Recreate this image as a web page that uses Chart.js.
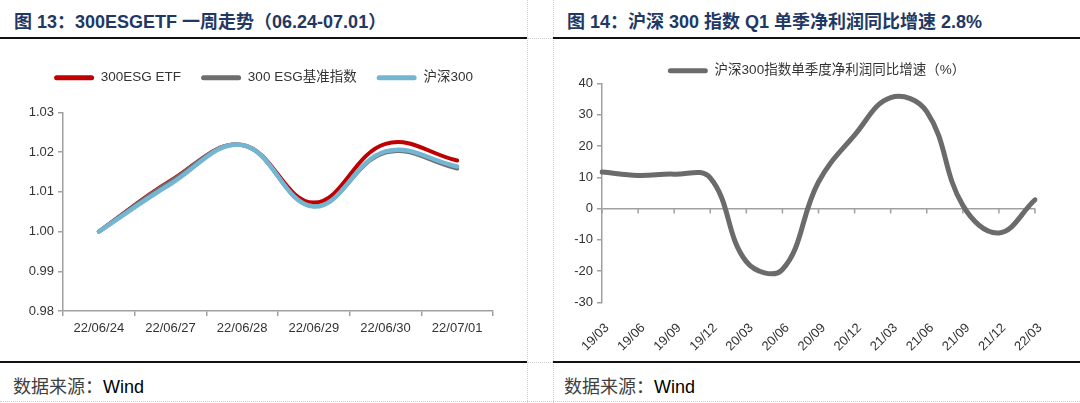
<!DOCTYPE html>
<html>
<head>
<meta charset="utf-8">
<script src="https://cdn.jsdelivr.net/npm/chart.js@4.4.1/dist/chart.umd.min.js"></script>
<style>
  body { margin: 0; width: 1080px; height: 403px; background: #fff; position: relative; overflow: hidden;
         font-family: "Liberation Sans", Arial, "Noto Sans CJK SC", sans-serif; }
  .title { position: absolute; top: 7px; font-size: 18px; font-weight: bold; color: #1f3864; white-space: nowrap; }
  .rule { position: absolute; height: 2px; background: #111; }
  .src { position: absolute; top: 372px; font-size: 18px; color: #404040; white-space: nowrap; }
  .src span { color: #000; }
  .dv { position: absolute; top: 0; height: 403px; border-left: 1px dotted #cfcfcf; }
  .dh { position: absolute; border-top: 1px dotted #cfcfcf; }
  canvas { position: absolute; }
</style>
</head>
<body>
<div class="dv" style="left:527px"></div>
<div class="dv" style="left:553px"></div>
<div class="dh" style="left:527px;width:26px;top:38px"></div>
<div class="dh" style="left:527px;width:26px;top:362px"></div>
<div class="dh" style="left:0;width:1080px;top:401px"></div>

<div class="title" style="left:14px">图 13：300ESGETF 一周走势（06.24-07.01）</div>
<div class="title" style="left:567px">图 14：沪深 300 指数 Q1 单季净利润同比增速 2.8%</div>
<div class="rule" style="left:0;width:527px;top:37px"></div>
<div class="rule" style="left:553px;width:527px;top:37px"></div>
<div class="rule" style="left:0;width:527px;top:361px"></div>
<div class="rule" style="left:553px;width:527px;top:361px"></div>

<canvas id="etfChart" width="527" height="320" style="left:0;top:40px"></canvas>
<canvas id="profitChart" width="527" height="320" style="left:553px;top:40px"></canvas>

<div class="src" style="left:13px">数据来源：<span>Wind</span></div>
<div class="src" style="left:564px">数据来源：<span>Wind</span></div>

<script>
// 图13 数据：一周净值走势
const dates = ['22/06/24', '22/06/27', '22/06/28', '22/06/29', '22/06/30', '22/07/01'];
const etfNav = [1.000, 1.0128, 1.0218, 1.0073, 1.0221, 1.0179];
const benchNav = [1.000, 1.0126, 1.0218, 1.0064, 1.0199, 1.0159];
const hs300Nav = [1.000, 1.0120, 1.0218, 1.0063, 1.0202, 1.0164];

// 图14 数据：沪深300单季度净利润同比增速（%）
const quarters = ['19/03', '19/06', '19/09', '19/12', '20/03', '20/06', '20/09',
                  '20/12', '21/03', '21/06', '21/09', '21/12', '22/03'];
const profitYoy = [11.7, 10.6, 11.0, 9.8, -17.0, -19.5, 8.5, 23.5, 35.5, 31.0, 1.0, -7.8, 2.8];

Chart.defaults.font.family = '"Liberation Sans", Arial, "Noto Sans CJK SC", sans-serif';
Chart.defaults.font.size = 13;
Chart.defaults.color = '#333';
Chart.defaults.devicePixelRatio = 1;

const axisGray = '#a0a0a0';

// legend swatch: flat bar, no stroke
function flatLabels(chart) {
    return Chart.defaults.plugins.legend.labels.generateLabels(chart).map(l => {
        l.fillStyle = l.strokeStyle;
        l.lineWidth = 0;
        l.borderRadius = 2.5;
        return l;
    });
}

// extra room under the legend
function legendGap(extra) {
    return {
        id: 'legendGap',
        beforeInit(chart) {
            const legend = chart.legend;
            if (!legend) return;
            const fit = legend.fit;
            legend.fit = function () { fit.call(this); this.height += extra; };
        }
    };
}

// empty axis on the right, just to keep the plot narrower than the legend row
function spacerAxis(w) {
    return {
        position: 'right',
        grid: { display: false },
        border: { display: false },
        ticks: { display: false },
        afterFit: s => { s.width = w; }
    };
}

function lineSet(label, data, color, width, order) {
    return {
        label: label,
        data: data,
        borderColor: color,
        backgroundColor: color,
        borderWidth: width,
        pointRadius: 0,
        tension: 0.4,
        borderCapStyle: 'round',
        order: order
    };
}

new Chart(document.getElementById('etfChart'), {
    type: 'line',
    data: {
        labels: dates,
        datasets: [
            lineSet('300ESG ETF', etfNav, '#c00000', 4, 3),
            lineSet('300 ESG基准指数', benchNav, '#6e6e6e', 4, 2),
            lineSet('沪深300', hs300Nav, '#74b6d2', 4.5, 1)
        ]
    },
    options: {
        responsive: false,
        animation: false,
        layout: { padding: { top: 11, right: 0, bottom: 0, left: 0 } },
        plugins: {
            tooltip: { enabled: false },
            legend: {
                position: 'top',
                labels: {
                    boxWidth: 40, boxHeight: 5, padding: 20,
                    useBorderRadius: true, borderRadius: 2.5,
                    font: { size: 13.5 }, color: '#333',
                    generateLabels: flatLabels,
                    sort: (a, b) => a.datasetIndex - b.datasetIndex
                }
            }
        },
        scales: {
            x: {
                offset: true,
                grid: { offset: true, drawOnChartArea: false, tickLength: 5, tickColor: axisGray, lineWidth: 1.5 },
                border: { color: axisGray, width: 1.5 },
                ticks: { padding: 5, maxRotation: 0 },
                afterFit: s => { s.height = 49; }
            },
            y: {
                min: 0.98, max: 1.03,
                grid: { drawOnChartArea: false, tickLength: 5, tickColor: axisGray, lineWidth: 1.5 },
                border: { color: axisGray, width: 1.5 },
                ticks: { stepSize: 0.01, padding: 4, callback: v => v.toFixed(2) },
                afterFit: s => { s.width = 63; }
            },
            pad: spacerAxis(34)
        }
    },
    plugins: [legendGap(18)]
});

// 零轴上的刻度线
const zeroTicks = {
    id: 'zeroTicks',
    beforeDatasetsDraw(chart) {
        const x = chart.scales.x, y = chart.scales.y;
        const y0 = y.getPixelForValue(0);
        const ctx = chart.ctx;
        ctx.save();
        ctx.strokeStyle = axisGray;
        ctx.lineWidth = 1.5;
        ctx.beginPath();
        for (let i = 0; i < quarters.length; i++) {
            const px = x.getPixelForValue(i);
            ctx.moveTo(px, y0);
            ctx.lineTo(px, y0 + 5);
        }
        ctx.stroke();
        ctx.restore();
    }
};

new Chart(document.getElementById('profitChart'), {
    type: 'line',
    data: {
        labels: quarters,
        datasets: [lineSet('沪深300指数单季度净利润同比增速（%）', profitYoy, '#6b6b6b', 5, 1)]
    },
    options: {
        responsive: false,
        animation: false,
        layout: { padding: { top: 12, right: 0, bottom: 0, left: 0 } },
        plugins: {
            tooltip: { enabled: false },
            legend: {
                position: 'top',
                labels: {
                    boxWidth: 40, boxHeight: 5, padding: 12,
                    useBorderRadius: true, borderRadius: 2.5,
                    font: { size: 13.5 }, color: '#333',
                    generateLabels: flatLabels
                }
            }
        },
        scales: {
            x: {
                offset: false,
                grid: { display: false },
                border: { display: false },
                ticks: { padding: 10, labelOffset: 5, minRotation: 45, maxRotation: 45, autoSkip: false },
                afterFit: s => { s.height = 57.7; }
            },
            y: {
                min: -30, max: 40,
                grid: {
                    color: c => (c.tick && c.tick.value === 0 ? axisGray : 'rgba(0,0,0,0)'),
                    lineWidth: 1.5,
                    tickLength: 5, tickColor: axisGray
                },
                border: { color: axisGray, width: 1.5 },
                ticks: { stepSize: 10, padding: 4 },
                afterFit: s => { s.width = 49; }
            },
            pad: spacerAxis(45)
        }
    },
    plugins: [zeroTicks, legendGap(-4)]
});
</script>
</body>
</html>
